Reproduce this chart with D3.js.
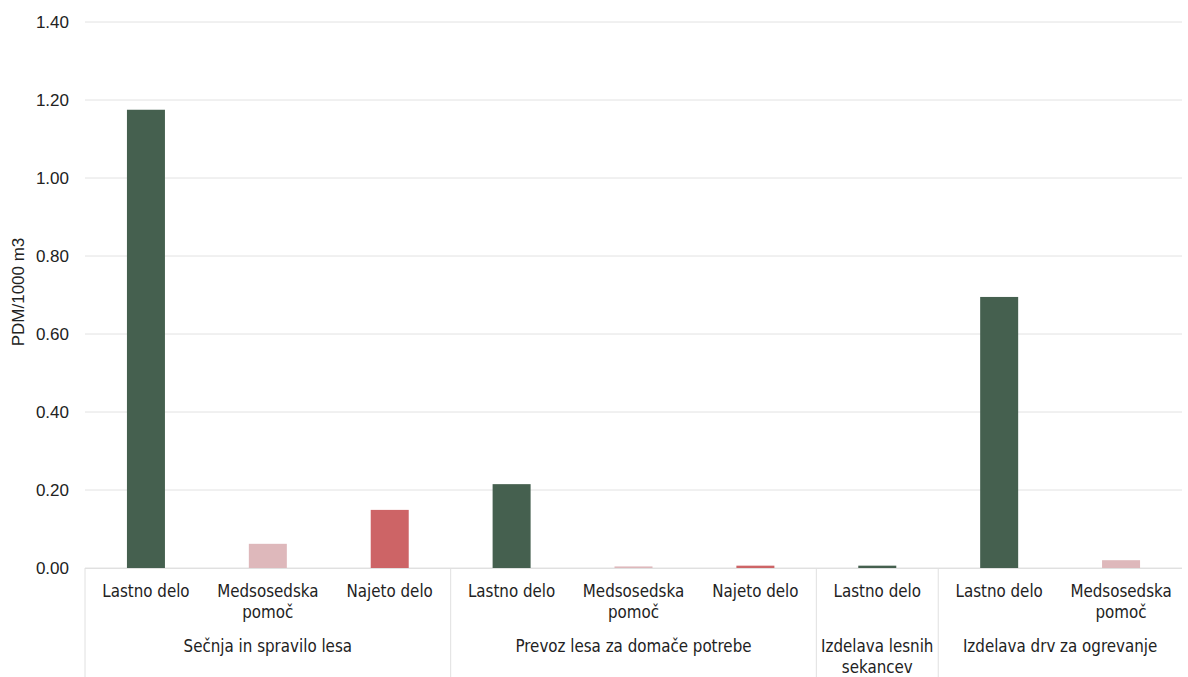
<!DOCTYPE html>
<html><head><meta charset="utf-8">
<script src="https://cdn.jsdelivr.net/npm/d3@7"></script>
<style>body{margin:0;background:#fff}svg{display:block}</style>
</head><body><svg id="c" width="1188" height="677"></svg>
<script>
const groups = ["Sečnja in spravilo lesa","Prevoz lesa za domače potrebe","Izdelava lesnih sekancev","Izdelava drv za ogrevanje"];
const groupOf = [0,0,0,1,1,1,2,3,3];
const categories = ["Lastno delo","Medsosedska pomoč","Najeto delo","Lastno delo","Medsosedska pomoč","Najeto delo","Lastno delo","Lastno delo","Medsosedska pomoč"];
const seriesType = ["own","neigh","hired","own","neigh","hired","own","own","neigh"];
const values = [1.175,0.062,0.149,0.215,0.004,0.006,0.006,0.695,0.02];
const yTicks = [0,0.2,0.4,0.6,0.8,1.0,1.2,1.4];
const colors = {own:"#45604f", neigh:"#deb8bb", hired:"#cd6466"};

const svg = d3.select("#c");
const L=85, R=1182, T=22, B=568;
const x = d3.scaleBand().domain(d3.range(categories.length)).range([L,R]).paddingInner(0).paddingOuter(0);
const y = d3.scaleLinear().domain([0,1.4]).range([B,T]);
const font = "'Liberation Sans', Arial, sans-serif";
const lblFont = "'DejaVu Sans Condensed','DejaVu Sans', sans-serif";

svg.append("g").selectAll("line").data(yTicks).join("line")
  .attr("x1",L).attr("x2",R).attr("y1",d=>y(d)).attr("y2",d=>y(d))
  .attr("stroke","#e2e2e2").attr("stroke-width",1);
svg.append("g").selectAll("text").data(yTicks).join("text")
  .attr("x",69).attr("y",d=>y(d)).attr("dy","0.35em").attr("text-anchor","end")
  .attr("font-family",font).attr("font-size",17).attr("fill","#222")
  .text(d=>d3.format(".2f")(d));
svg.append("text").attr("transform","translate(24,292) rotate(-90)")
  .attr("text-anchor","middle").attr("font-family",font).attr("font-size",17).attr("fill","#222")
  .text("PDM/1000 m3");

const bw = 38;
svg.append("g").selectAll("rect").data(values).join("rect")
  .attr("x",(d,i)=>x(i)+x.bandwidth()/2-bw/2).attr("width",bw)
  .attr("y",d=>y(d)).attr("height",d=>Math.max(0,B-y(d)))
  .attr("fill",(d,i)=>colors[seriesType[i]]);

svg.append("line").attr("x1",L).attr("x2",R).attr("y1",B+0.5).attr("y2",B+0.5).attr("stroke","#e0e0e0");

const seps=[0];
for(let i=1;i<groupOf.length;i++) if(groupOf[i]!==groupOf[i-1]) seps.push(i);
svg.append("g").selectAll("line").data(seps).join("line")
  .attr("x1",i=>x(i)).attr("x2",i=>x(i))
  .attr("y1",B).attr("y2",677).attr("stroke","#e0e0e0");

function wrap(sel, lines, lh){
  lines.forEach((t,k)=>sel.append("tspan").attr("x",sel.attr("x")).attr("dy",k===0?0:lh).text(t));
}
function splitLabel(s){
  if(s==="Medsosedska pomoč") return ["Medsosedska","pomoč"];
  if(s==="Izdelava lesnih sekancev") return ["Izdelava lesnih","sekancev"];
  return [s];
}
categories.forEach((c,i)=>{
  const t=svg.append("text").attr("x",x(i)+x.bandwidth()/2).attr("y",597)
    .attr("text-anchor","middle").attr("font-family",lblFont).attr("font-size",16.8).attr("fill","#222");
  wrap(t,splitLabel(c),21);
});
groups.forEach((g,gi)=>{
  const idx=groupOf.map((v,i)=>v===gi?i:-1).filter(i=>i>=0);
  const cx=(x(idx[0])+x(idx[idx.length-1])+x.bandwidth())/2;
  const t=svg.append("text").attr("x",cx).attr("y",652)
    .attr("text-anchor","middle").attr("font-family",lblFont).attr("font-size",16.8).attr("fill","#222");
  wrap(t,splitLabel(g),21);
});
</script></body></html>
